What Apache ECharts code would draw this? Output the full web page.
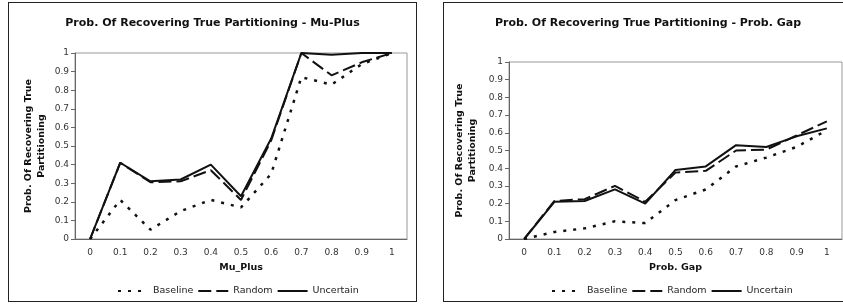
<!DOCTYPE html>
<html>
<head>
<meta charset="utf-8">
<script src="https://cdn.jsdelivr.net/npm/echarts@6/dist/echarts.min.js"></script>
<style>
  html, body { margin: 0; padding: 0; background: #fff; }
  .page { position: relative; width: 843px; height: 304px; overflow: hidden; }
  .panel { position: absolute; top: 2px; height: 300px; box-sizing: border-box; border: 1px solid #222; }
  .chart { width: 100%; height: 100%; }
</style>
</head>
<body>
<div class="page">
  <div class="panel" style="left:8px; width:409px"><div id="muChart" class="chart"></div></div>
  <div class="panel" style="left:443px; width:410px"><div id="gapChart" class="chart"></div></div>
</div>
<script>
// x 轴刻度（两张图相同）
const categories = ['0', '0.1', '0.2', '0.3', '0.4', '0.5', '0.6', '0.7', '0.8', '0.9', '1']

// 左图：Mu-Plus
const muBaseline = [0, 0.21, 0.05, 0.15, 0.21, 0.17, 0.35, 0.87, 0.83, 0.94, 1.0]
const muRandom = [0, 0.41, 0.305, 0.31, 0.37, 0.21, 0.53, 1.0, 0.88, 0.95, 1.0]
const muUncertain = [0, 0.41, 0.31, 0.32, 0.40, 0.23, 0.54, 1.0, 0.99, 1.0, 1.0]

// 右图：Prob. Gap
const gapBaseline = [0, 0.04, 0.06, 0.10, 0.09, 0.22, 0.28, 0.41, 0.46, 0.52, 0.615]
const gapRandom = [0, 0.215, 0.225, 0.30, 0.21, 0.375, 0.385, 0.50, 0.505, 0.585, 0.665]
const gapUncertain = [0, 0.21, 0.215, 0.28, 0.20, 0.39, 0.41, 0.53, 0.52, 0.58, 0.625]

const font = 'DejaVu Sans'
const ink = '#111'

function buildOption (title, xName, grid, legendLeft, yNameGap, baseline, random, uncertain) {
  return {
    animation: false,
    title: {
      text: title, left: 'center', top: 10,
      textStyle: { fontFamily: font, fontSize: 11, fontWeight: 'bold', color: ink }
    },
    // 图例只显示线型，不显示圆点
    legend: {
      left: legendLeft, bottom: 0, itemWidth: 30, itemHeight: 10, itemGap: 4,
      itemStyle: { opacity: 0 },
      textStyle: { fontFamily: font, fontSize: 9.5, color: '#222' },
      data: ['Baseline', 'Random', 'Uncertain']
    },
    grid: Object.assign({ show: true, borderColor: '#999', borderWidth: 1 }, grid),
    xAxis: {
      type: 'category', data: categories, boundaryGap: true,
      name: xName, nameLocation: 'middle', nameGap: 24, nameMoveOverlap: false,
      nameTextStyle: { fontFamily: font, fontSize: 9.5, fontWeight: 'bold', color: ink },
      axisLine: { lineStyle: { color: '#666' } },
      axisTick: { length: 4, lineStyle: { color: '#666' } },
      axisLabel: { fontFamily: font, fontSize: 9, color: '#333', margin: 9 }
    },
    yAxis: {
      type: 'value', min: 0, max: 1, interval: 0.1,
      name: 'Prob. Of Recovering True\nPartitioning', nameLocation: 'middle',
      nameGap: yNameGap, nameMoveOverlap: false,
      nameTextStyle: { fontFamily: font, fontSize: 9.5, fontWeight: 'bold', color: ink, lineHeight: 13 },
      axisLine: { show: true, lineStyle: { color: '#666' } },
      axisTick: { show: true, length: 4, lineStyle: { color: '#666' } },
      splitLine: { show: false },
      axisLabel: { fontFamily: font, fontSize: 9, color: '#333', margin: 6 }
    },
    series: [
      { name: 'Baseline', type: 'line', data: baseline, symbol: 'none',
        lineStyle: { color: ink, width: 2.5, type: [3, 7] }, itemStyle: { color: ink } },
      { name: 'Random', type: 'line', data: random, symbol: 'none',
        lineStyle: { color: ink, width: 2, type: [13, 5] }, itemStyle: { color: ink } },
      { name: 'Uncertain', type: 'line', data: uncertain, symbol: 'none',
        lineStyle: { color: ink, width: 2 }, itemStyle: { color: ink } }
    ]
  }
}

echarts.init(document.getElementById('muChart')).setOption(
  buildOption('Prob. Of Recovering True Partitioning - Mu-Plus', 'Mu_Plus',
    { left: 66, right: 9, top: 50, bottom: 62 }, 103, 27, muBaseline, muRandom, muUncertain))

echarts.init(document.getElementById('gapChart')).setOption(
  buildOption('Prob. Of Recovering True Partitioning - Prob. Gap', 'Prob. Gap',
    { left: 65, right: 10, top: 59, bottom: 62 }, 102, 30, gapBaseline, gapRandom, gapUncertain))
</script>
</body>
</html>
